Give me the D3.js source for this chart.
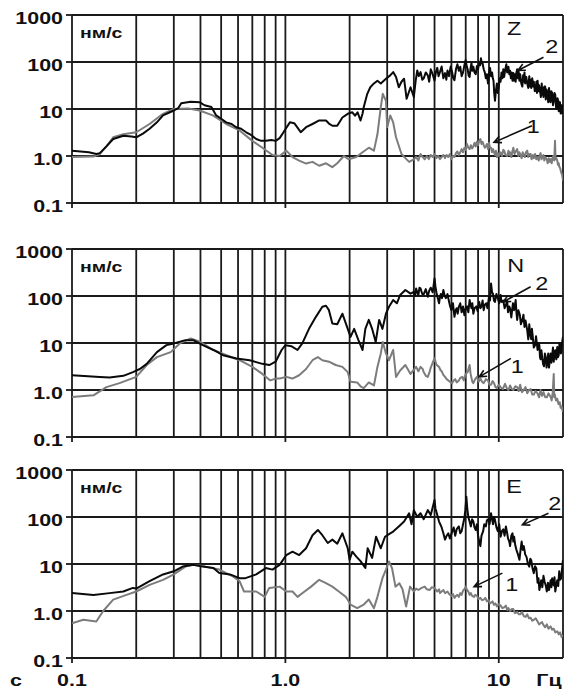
<!DOCTYPE html>
<html lang="ru">
<head>
<meta charset="UTF-8">
<title>Спектры скорости Z, N, E</title>
<style>
  body { margin: 0; padding: 0; background: #fff; }
  svg { display: block; font-family: "Liberation Sans", Arial, sans-serif; }
</style>
</head>
<body>
<svg id="chart" width="564" height="691"></svg>
<script src="https://d3js.org/d3.v7.min.js"></script>
<script>
// ---- data: [frequency Hz, amplitude nm/s] ----
const ampTicks = [0.1, 1, 10, 100, 1000];
const ampTickLabels = ["0.1", "1.0", "10", "100", "1000"];
const freqTicks = [0.1, 1, 10];
const freqTickLabels = ["0.1", "1.0", "10"];
const componentNames = ["Z", "N", "E"];

const zCurve2 = [[0.1,1.3],[0.12,1.2],[0.13,1.1],[0.135,1.15],[0.145,1.6],[0.156,2.3],[0.174,2.7],[0.19,2.6],[0.2,2.5],[0.215,3.0],[0.231,3.8],[0.25,5.2],[0.267,7.3],[0.3,9.3],[0.315,10.5],[0.325,13.3],[0.36,14.2],[0.396,14],[0.418,12],[0.45,11],[0.474,7.3],[0.5,6.2],[0.528,5.2],[0.56,4.8],[0.588,4.1],[0.62,3.8],[0.655,3.2],[0.69,2.8],[0.73,2.3],[0.77,2.1],[0.81,2.1],[0.86,2.2],[0.9,2.1],[0.94,2.4],[0.98,3.2],[1.0,3.7],[1.05,5.2],[1.1,5.0],[1.14,4.0],[1.18,3.2],[1.25,4.1],[1.34,4.8],[1.44,5.7],[1.55,5.7],[1.6,4.9],[1.66,4.4],[1.75,4.4],[1.85,6.6],[1.96,7.9],[2.06,8.5],[2.12,7.2],[2.18,8.5],[2.25,5.7],[2.3,8],[2.33,11],[2.42,21],[2.5,29],[2.6,35],[2.7,40],[2.8,35],[2.96,44],[3.1,52],[3.2,61],[3.3,48],[3.4,29],[3.5,38],[3.6,44],[3.7,16.5],[3.86,29],
  [4.0,18],[4.08,40],[4.15,66],[4.22,50],[4.3,61],[4.38,42],[4.45,45],[4.55,60],[4.65,52],[4.72,38],[4.8,70],[4.9,55],[5.0,40],[5.08,62],[5.15,75],[5.22,50],[5.3,61],[5.4,80],[5.5,45],[5.6,58],[5.68,42],[5.75,66],[5.85,50],[5.95,80],[6.05,60],[6.12,45],[6.2,41],[6.3,70],[6.4,90],[6.5,65],[6.6,79],[6.7,50],[6.8,60],[6.9,85],[7.0,110],[7.08,80],[7.15,70],[7.22,52],[7.3,48],[7.38,75],[7.45,95],[7.52,65],[7.6,79],[7.7,60],[7.8,55],[7.9,82],[8.0,70],[8.1,100],[8.18,85],[8.25,120],[8.32,95],[8.4,93],[8.5,70],[8.6,60],[8.7,45],[8.8,55],[8.9,35],[9.0,55],[9.1,75],[9.2,50],[9.3,60],[9.38,45],[9.45,40],[9.52,22],[9.6,15],[9.7,25],[9.8,35],[9.9,22],[10,29],[10.1,45],[10.2,38],[10.3,60],[10.4,45],[10.5,70],[10.6,48],[10.7,65],[10.85,90],[10.95,60],[11.1,79],[11.2,55],[11.3,65],[11.4,45],[11.5,60],[11.6,40],[11.7,58],[11.8,40],[11.9,55],[12.0,38],[12.1,60],[12.2,70],[12.3,45],[12.4,62],[12.5,40],[12.6,55],[12.75,35],[12.9,30],[13.0,52],[13.1,38],[13.2,60],[13.3,35],[13.45,48],[13.6,35],[13.75,28],[13.9,50],[14.0,30],[14.1,42],[14.2,28],[14.35,45],[14.5,30],[14.6,38],[14.75,24],[14.9,25],[15.0,38],[15.1,22],[15.2,40],[15.35,24],[15.45,32],[15.6,25],[15.75,18],[15.9,35],[16.0,20],[16.1,28],[16.2,18],[16.35,30],[16.5,30],[16.6,16],[16.75,26],[16.9,21],[17.05,14],[17.2,28],[17.35,15],[17.5,14],[17.6,24],[17.8,22],[17.95,12],[18.1,15],[18.25,22],[18.4,20],[18.55,11],[18.7,10],[18.85,17],[19.0,15],[19.1,9],[19.2,11],[19.35,14],[19.5,8],[19.65,12],[19.8,12],[19.9,8],[20,9.5]];
const zCurve1 = [[0.1,0.95],[0.126,0.97],[0.135,1.1],[0.145,1.6],[0.156,2.5],[0.174,2.9],[0.2,3.2],[0.231,4.8],[0.267,7.9],[0.3,10],[0.35,10.2],[0.396,9.3],[0.457,7.3],[0.528,4.8],[0.61,3.5],[0.7,2.1],[0.78,1.5],[0.87,1.05],[0.94,1.0],[1.01,1.3],[1.08,0.95],[1.16,0.8],[1.25,0.69],[1.34,0.75],[1.44,0.62],[1.55,0.7],[1.66,0.58],[1.75,0.7],[1.88,1.0],[1.98,0.85],[2.15,0.95],[2.3,1.2],[2.46,1.5],[2.6,1.3],[2.7,2.9],[2.8,11],[2.86,21],[2.96,15],[3.0,4.1],[3.1,7.3],[3.2,5.2],[3.3,2.5],[3.5,1.1],[3.65,0.9],[3.8,0.75],
  [4.0,0.85],[4.1,0.95],[4.2,0.8],[4.3,1.1],[4.4,0.95],[4.5,0.85],[4.6,1.0],[4.7,0.86],[4.8,1.05],[4.9,0.95],[5.0,1.1],[5.1,0.9],[5.2,1.0],[5.3,0.86],[5.4,0.95],[5.5,1.05],[5.6,0.9],[5.7,1.05],[5.8,0.95],[5.9,1.1],[6.0,0.85],[6.1,1.0],[6.2,0.95],[6.3,1.15],[6.4,1.25],[6.5,1.05],[6.6,1.2],[6.7,1.4],[6.8,1.2],[6.9,1.5],[7.0,1.35],[7.1,1.8],[7.2,1.5],[7.3,1.4],[7.4,1.7],[7.5,1.45],[7.6,1.6],[7.7,1.9],[7.8,1.6],[7.9,2.0],[8.0,1.7],[8.1,2.1],[8.2,2.3],[8.3,1.8],[8.4,2.0],[8.5,1.7],[8.6,1.5],[8.7,1.6],[8.8,1.8],[8.9,1.4],[9.0,1.9],[9.1,1.5],[9.2,1.5],[9.3,1.2],[9.4,1.4],[9.5,1.2],[9.6,1.05],[9.7,1.3],[9.8,0.95],[9.9,1.15],[10.0,1.0],[10.2,1.2],[10.35,1.0],[10.5,1.35],[10.6,1.3],[10.75,1.05],[10.95,1.0],[11.1,1.3],[11.2,1.05],[11.3,1.2],[11.45,0.95],[11.6,1.3],[11.7,1.5],[11.85,1.1],[12.0,1.25],[12.2,1.4],[12.35,1.0],[12.5,1.2],[12.6,1.1],[12.8,0.9],[12.95,1.2],[13.1,1.05],[13.25,0.95],[13.4,1.2],[13.6,1.3],[13.75,0.95],[13.9,1.1],[14.1,1.1],[14.25,0.85],[14.45,1.05],[14.6,0.9],[14.8,1.1],[15.0,0.85],[15.2,0.95],[15.4,0.8],[15.55,1.05],[15.7,1.15],[15.85,0.85],[16.0,0.95],[16.2,1.05],[16.35,0.8],[16.5,0.95],[16.8,0.85],[16.95,0.7],[17.15,0.9],[17.3,0.75],[17.5,0.86],[17.7,0.7],[17.85,0.9],[18.0,1.0],[18.2,0.8],[18.35,2.1],[18.45,0.85],[18.6,0.9],[18.8,0.8],[18.95,0.65],[19.1,0.7],[19.2,0.6],[19.4,0.55],[19.6,0.45],[19.8,0.4],[20,0.3]];

const nCurve2 = [[0.1,2.06],[0.135,1.9],[0.15,1.85],[0.174,2.0],[0.193,2.4],[0.208,2.8],[0.224,3.6],[0.25,6.4],[0.277,9.0],[0.3,9.8],[0.34,11.5],[0.37,11.5],[0.41,9.0],[0.46,7.1],[0.51,5.5],[0.59,4.7],[0.68,4.3],[0.78,3.6],[0.84,3.4],[0.9,4.0],[0.96,7.1],[1.0,9.0],[1.07,8.5],[1.14,7.1],[1.2,9.8],[1.29,20],[1.39,36],[1.49,59],[1.55,62],[1.6,50],[1.66,26],[1.75,25],[1.85,42],[1.96,20],[2.02,13.5],[2.1,20],[2.2,11.5],[2.3,7.1],[2.37,20],[2.46,31],[2.55,20],[2.65,10.5],[2.75,31],[2.85,20],[2.96,42],[3.06,59],[3.2,82],[3.33,70],[3.45,105],[3.65,134],[3.86,112],
  [4.0,123],[4.05,100],[4.1,145],[4.15,120],[4.2,105],[4.25,150],[4.3,145],[4.38,110],[4.45,110],[4.55,140],[4.65,96],[4.72,130],[4.8,150],[4.9,120],[5.0,237],[5.05,160],[5.1,120],[5.18,90],[5.25,70],[5.3,95],[5.35,110],[5.42,90],[5.5,134],[5.58,100],[5.65,90],[5.75,110],[5.85,75],[5.92,60],[6.0,50],[6.1,70],[6.2,36],[6.28,50],[6.35,55],[6.42,42],[6.5,59],[6.6,70],[6.7,45],[6.8,60],[6.9,39],[7.0,55],[7.1,60],[7.2,45],[7.3,82],[7.38,65],[7.45,55],[7.52,70],[7.6,42],[7.7,55],[7.85,60],[7.95,48],[8.1,75],[8.2,55],[8.3,60],[8.4,80],[8.5,50],[8.6,65],[8.75,70],[8.85,55],[9.0,96],[9.1,80],[9.2,185],[9.3,120],[9.4,110],[9.5,80],[9.6,75],[9.75,110],[9.9,90],[10.05,70],[10.2,105],[10.3,75],[10.5,80],[10.65,55],[10.8,64],[10.95,80],[11.05,45],[11.2,60],[11.3,54],[11.45,35],[11.65,70],[11.8,50],[12.0,82],[12.1,45],[12.2,31],[12.35,50],[12.55,40],[12.7,25],[12.9,31],[13.05,40],[13.2,22],[13.35,30],[13.6,18.5],[13.75,12],[13.9,25],[14.05,15],[14.2,12],[14.3,20],[14.4,15],[14.6,8],[14.8,9],[14.95,14],[15.2,7.1],[15.35,10],[15.5,9],[15.6,5],[15.7,4.5],[15.85,7],[16.0,4.7],[16.15,3.5],[16.3,3.2],[16.45,6],[16.6,5],[16.75,3],[16.9,4.0],[17.05,6],[17.2,3.0],[17.35,4.5],[17.5,6],[17.65,3.8],[17.8,5.5],[17.95,8],[18.1,4],[18.25,6],[18.4,7],[18.6,4.5],[18.8,8.2],[18.95,5],[19.1,5.5],[19.25,10],[19.4,9],[19.55,6],[19.7,7],[19.85,11],[20,13.5]];
const nCurve1 = [[0.1,0.71],[0.126,0.77],[0.145,1.15],[0.167,1.4],[0.2,1.9],[0.224,3.4],[0.25,5.0],[0.29,6.4],[0.32,9.8],[0.36,12.5],[0.4,10.5],[0.46,7.1],[0.53,5.5],[0.61,4.3],[0.7,3.1],[0.78,2.2],[0.85,1.6],[0.9,1.75],[0.94,1.75],[1.01,1.9],[1.08,1.75],[1.16,2.06],[1.25,2.8],[1.34,4.3],[1.42,5.0],[1.49,4.3],[1.6,4.0],[1.72,3.4],[1.85,3.1],[1.96,2.4],[2.02,1.5],[2.17,1.45],[2.25,1.2],[2.33,1.1],[2.46,1.45],[2.6,1.25],[2.7,3.1],[2.8,6.0],[2.86,10.5],[2.96,6.0],[3.06,4.3],[3.2,7.1],[3.3,1.9],[3.45,2.6],[3.65,3.4],[3.86,2.2],
  [4.1,3.1],[4.2,2.5],[4.3,3.1],[4.4,2.8],[4.45,2.4],[4.55,2.0],[4.65,1.9],[4.75,2.5],[4.8,3.0],[4.9,3.8],[5.0,4.7],[5.1,3.5],[5.25,3.1],[5.32,2.7],[5.4,2.5],[5.5,2.1],[5.6,1.9],[5.7,1.7],[5.8,1.6],[5.9,1.5],[6.05,1.4],[6.15,1.6],[6.25,1.7],[6.35,1.45],[6.5,1.6],[6.6,1.8],[6.75,1.9],[6.85,1.6],[7.0,2.2],[7.15,2.4],[7.3,3.4],[7.38,2.2],[7.45,1.8],[7.52,1.5],[7.6,1.4],[7.75,1.7],[7.9,1.9],[8.05,1.5],[8.2,1.75],[8.35,1.5],[8.5,1.4],[8.7,1.7],[8.9,1.6],[9.05,1.3],[9.2,1.3],[9.35,1.55],[9.5,1.4],[9.65,1.15],[9.8,1.1],[10.0,1.3],[10.2,1.15],[10.45,1.05],[10.7,1.35],[10.9,1.1],[11.1,1.0],[11.3,1.25],[11.5,1.05],[11.7,1.0],[11.95,1.2],[12.2,1.15],[12.4,0.95],[12.6,1.3],[12.85,0.9],[13.1,1.0],[13.35,1.15],[13.6,0.85],[13.85,1.0],[14.1,1.05],[14.35,0.8],[14.6,0.8],[14.85,0.95],[15.2,0.85],[15.45,0.7],[15.7,1.0],[15.95,0.75],[16.2,0.9],[16.5,0.7],[16.8,0.7],[17.1,0.85],[17.5,0.71],[17.7,0.6],[17.9,0.9],[18.1,2.2],[18.2,0.7],[18.3,0.8],[18.55,0.6],[18.8,0.65],[19.05,0.5],[19.3,0.55],[19.5,0.42],[19.7,0.45],[19.85,0.38],[20,0.35]];

const eCurve2 = [[0.1,2.41],[0.126,2.2],[0.15,2.4],[0.174,2.6],[0.193,3.1],[0.2,3.0],[0.231,4.3],[0.267,6.0],[0.3,7.0],[0.33,8.8],[0.37,9.6],[0.41,8.8],[0.46,8.2],[0.49,6.4],[0.55,6.0],[0.61,5.0],[0.65,5.0],[0.73,6.0],[0.81,8.2],[0.87,7.6],[0.94,9.6],[1.01,15.5],[1.08,18.3],[1.16,15.5],[1.25,21.6],[1.34,41],[1.42,53],[1.49,41],[1.58,28],[1.66,33],[1.75,27],[1.85,45],[1.96,21.6],[2.0,12.3],[2.06,18.3],[2.15,14.4],[2.25,11.5],[2.37,8.2],[2.43,21.6],[2.55,13.5],[2.66,38],[2.8,21.6],[2.93,38],[3.1,45],[3.2,49],[3.4,63],[3.6,80],[3.8,120],[3.9,70],[4.0,140],[4.15,100],[4.3,120],[4.45,90],[4.65,140],[4.8,110],
  [5.0,230],[5.05,150],[5.1,130],[5.18,100],[5.25,80],[5.32,70],[5.4,60],[5.5,45],[5.6,33],[5.7,40],[5.8,45],[5.9,35],[6.05,49],[6.15,60],[6.25,40],[6.35,55],[6.5,63],[6.6,45],[6.7,50],[6.8,70],[6.9,94],[6.97,140],[7.05,270],[7.12,150],[7.2,100],[7.3,80],[7.4,63],[7.5,90],[7.6,80],[7.7,60],[7.8,53],[7.9,70],[8.0,40],[8.1,30],[8.2,24],[8.3,40],[8.45,50],[8.55,70],[8.7,63],[8.8,85],[8.95,90],[9.05,70],[9.2,120],[9.3,90],[9.4,70],[9.5,100],[9.6,87],[9.75,60],[9.9,50],[10.05,70],[10.2,38],[10.35,50],[10.5,55],[10.65,40],[10.8,63],[10.95,45],[11.05,35],[11.2,30],[11.3,24],[11.45,40],[11.6,45],[11.7,30],[11.8,38],[11.95,25],[12.1,20],[12.3,16],[12.5,12.3],[12.65,20],[12.8,30],[12.95,20],[13.1,24],[13.3,16],[13.5,14],[13.7,10],[13.9,8.8],[14.05,13],[14.2,12],[14.4,8],[14.6,6.4],[14.8,9],[15.0,8],[15.2,4],[15.35,5],[15.5,2.8],[15.65,3.5],[15.8,4.5],[16.0,3.2],[16.2,5.6],[16.4,4.2],[16.6,3.5],[16.8,2.6],[17.0,4],[17.2,2.8],[17.35,3.5],[17.5,4.5],[17.65,3.2],[17.8,5.0],[17.95,3.8],[18.1,3.5],[18.25,5.2],[18.4,2.6],[18.6,3.5],[18.8,4.5],[19.0,3.4],[19.2,7.0],[19.4,4.6],[19.6,5],[19.8,8],[20,12.3]];
const eCurve1 = [[0.1,0.55],[0.113,0.65],[0.13,0.6],[0.14,1.0],[0.156,1.75],[0.18,2.2],[0.2,2.6],[0.231,3.6],[0.267,4.6],[0.3,6.0],[0.34,8.8],[0.37,9.6],[0.42,8.8],[0.49,7.6],[0.57,5.4],[0.61,4.3],[0.64,2.6],[0.73,2.6],[0.8,2.0],[0.84,3.1],[0.94,3.3],[1.01,2.6],[1.08,2.6],[1.14,2.0],[1.23,2.6],[1.32,3.3],[1.44,4.6],[1.55,3.9],[1.66,3.3],[1.78,2.6],[1.92,2.0],[2.02,1.37],[2.17,1.15],[2.33,1.37],[2.46,1.75],[2.6,1.15],[2.7,2.0],[2.85,5.0],[2.96,7.6],[3.06,11.3],[3.16,8.2],[3.28,3.3],[3.42,3.9],[3.54,2.9],[3.68,1.25],[3.84,3.3],
  [4.0,2.6],[4.1,3.0],[4.2,2.8],[4.35,3.1],[4.5,3.3],[4.6,2.9],[4.75,2.8],[4.85,3.2],[5.0,3.1],[5.08,2.8],[5.15,2.6],[5.25,2.9],[5.3,2.4],[5.4,2.6],[5.5,2.8],[5.6,2.4],[5.75,2.6],[5.85,2.3],[6.0,2.1],[6.1,2.3],[6.2,1.9],[6.3,2.1],[6.4,2.2],[6.5,2.0],[6.6,2.4],[6.7,2.2],[6.8,2.7],[6.9,2.9],[7.0,3.3],[7.1,2.8],[7.2,2.6],[7.3,2.2],[7.4,2.4],[7.5,2.1],[7.65,2.0],[7.75,2.2],[7.9,2.1],[8.05,1.8],[8.2,1.9],[8.35,1.7],[8.5,1.75],[8.65,1.9],[8.8,1.6],[8.95,1.7],[9.1,1.45],[9.2,1.5],[9.35,1.6],[9.5,1.35],[9.65,1.45],[9.8,1.25],[10.0,1.4],[10.2,1.3],[10.4,1.15],[10.6,1.2],[10.8,1.3],[10.95,1.05],[11.1,1.15],[11.3,1.0],[11.5,1.1],[11.7,1.1],[11.9,0.9],[12.2,0.95],[12.4,0.85],[12.6,0.85],[12.85,0.95],[13.1,0.78],[13.35,0.75],[13.6,0.85],[13.85,0.7],[14.1,0.72],[14.35,0.62],[14.6,0.65],[14.9,0.7],[15.2,0.6],[15.45,0.52],[15.7,0.55],[15.95,0.58],[16.2,0.5],[16.5,0.45],[16.8,0.52],[17.1,0.42],[17.5,0.47],[17.8,0.4],[18.1,0.42],[18.4,0.35],[18.8,0.37],[19.1,0.32],[19.4,0.35],[19.7,0.28],[20,0.31]];

// annotation anchors in data units: component letter, label "2" + arrow, label "1" + arrow
const nameAt   = [[11.8, 373], [12.0, 323], [11.8, 325]];
const label2At = [[17.7, 154], [15.9, 134], [18.3, 142]];
const arrow2   = [[[16.2, 126], [12.3, 66]], [[14.1, 157], [10.5, 75]], [[17.1, 120], [12.9, 68]]];
const label1At = [[14.5, 3.1], [12.2, 2.3], [11.5, 2.7]];
const arrow1   = [[[14.3, 4.4], [9.5, 1.95]], [[11.4, 4.7], [8.1, 1.9]], [[10.4, 6.4], [7.66, 3.3]]];

const curves = [[zCurve1, zCurve2], [nCurve1, nCurve2], [eCurve1, eCurve2]];

// ---- layout ----
const svg = d3.select("#chart");
const panelTops = [15, 249, 470];
const panelH = 188;
const left = 72, right = 563;
const sx = 1.3; // glyphs in the original are horizontally stretched

const x = d3.scaleLog().domain([0.1, 20]).range([left, right]);

function addText(g, px, py, str, size, weight, anchor) {
    g.append("text")
        .attr("transform", `translate(${px},${py}) scale(${sx},1)`)
        .attr("text-anchor", anchor)
        .attr("font-size", size)
        .attr("font-weight", weight)
        .attr("fill", "#111")
        .text(str);
}

function arrow(g, p0, p1) {
    const ang = Math.atan2(p1[1] - p0[1], p1[0] - p0[0]);
    const len = 8, spread = 0.45;
    const a1 = [p1[0] - len * Math.cos(ang - spread), p1[1] - len * Math.sin(ang - spread)];
    const a2 = [p1[0] - len * Math.cos(ang + spread), p1[1] - len * Math.sin(ang + spread)];
    g.append("path")
        .attr("d", `M${p0[0]},${p0[1]}L${p1[0]},${p1[1]}M${a1[0]},${a1[1]}L${p1[0]},${p1[1]}L${a2[0]},${a2[1]}`)
        .attr("fill", "none")
        .attr("stroke", "#111")
        .attr("stroke-width", 1.6);
}

componentNames.forEach((name, i) => {
    const top = panelTops[i], bottom = top + panelH;
    const y = d3.scaleLog().domain([0.1, 1000]).range([bottom, top]);
    const g = svg.append("g");

    // grid
    g.selectAll(".vgrid").data(x.ticks()).enter().append("line")
        .attr("x1", d => x(d)).attr("x2", d => x(d))
        .attr("y1", top).attr("y2", bottom)
        .attr("stroke", "#1a1a1a").attr("stroke-width", 1.8);
    g.selectAll(".hgrid").data(ampTicks).enter().append("line")
        .attr("x1", left).attr("x2", right)
        .attr("y1", d => y(d)).attr("y2", d => y(d))
        .attr("stroke", "#1a1a1a").attr("stroke-width", 1.8);

    // ticks
    g.selectAll(".ytick").data(ampTicks).enter().append("line")
        .attr("x1", left - 6).attr("x2", left)
        .attr("y1", d => y(d)).attr("y2", d => y(d))
        .attr("stroke", "#1a1a1a").attr("stroke-width", 1.8);
    g.selectAll(".xtick").data(freqTicks).enter().append("line")
        .attr("x1", d => x(d)).attr("x2", d => x(d))
        .attr("y1", bottom).attr("y2", bottom + 5)
        .attr("stroke", "#1a1a1a").attr("stroke-width", 1.8);

    ampTicks.forEach((v, k) => addText(g, left - 9, y(v) + 9, ampTickLabels[k], 16.5, "bold", "end"));
    addText(g, left + 8, top + 23, "нм/с", 15, "bold", "start");

    // curves: 1 = grey, 2 = black
    g.append("clipPath").attr("id", "clip" + i)
        .append("rect").attr("x", left).attr("y", top).attr("width", right - left).attr("height", panelH);
    const line = d3.line().x(d => x(d[0])).y(d => y(d[1]));
    g.append("path").datum(curves[i][0])
        .attr("d", line).attr("clip-path", `url(#clip${i})`)
        .attr("fill", "none").attr("stroke", "#7c7c7c").attr("stroke-width", 2)
        .attr("stroke-linejoin", "round");
    g.append("path").datum(curves[i][1])
        .attr("d", line).attr("clip-path", `url(#clip${i})`)
        .attr("fill", "none").attr("stroke", "#0a0a0a").attr("stroke-width", 2)
        .attr("stroke-linejoin", "round");

    // annotations
    addText(g, x(nameAt[i][0]), y(nameAt[i][1]), name, 18, "normal", "middle");
    addText(g, x(label2At[i][0]), y(label2At[i][1]), "2", 18, "normal", "middle");
    addText(g, x(label1At[i][0]), y(label1At[i][1]), "1", 18, "normal", "middle");
    arrow(g, [x(arrow2[i][0][0]), y(arrow2[i][0][1])], [x(arrow2[i][1][0]), y(arrow2[i][1][1])]);
    arrow(g, [x(arrow1[i][0][0]), y(arrow1[i][0][1])], [x(arrow1[i][1][0]), y(arrow1[i][1][1])]);
});

// bottom axis labels
freqTicks.forEach((f, k) => addText(svg, x(f), 686, freqTickLabels[k], 16.5, "bold", "middle"));
addText(svg, 549, 686, "Гц", 16.5, "bold", "middle");
addText(svg, 16, 686, "с", 16.5, "bold", "middle");
</script>
</body>
</html>
